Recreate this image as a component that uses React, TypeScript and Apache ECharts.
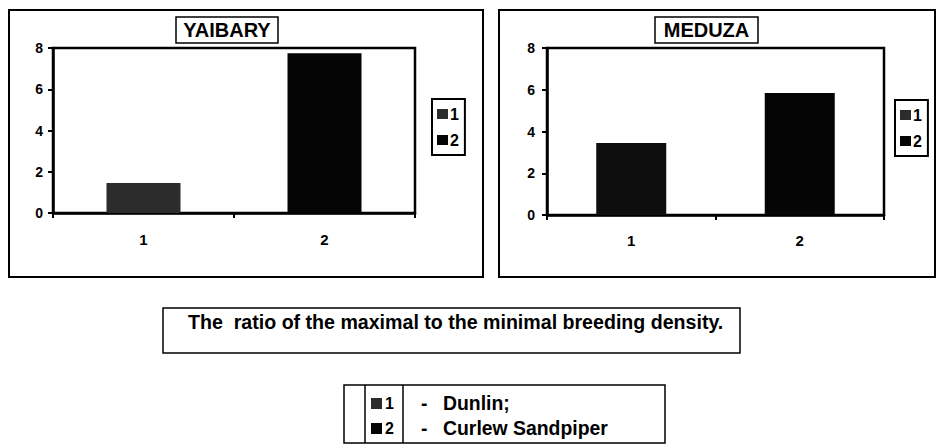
import React, { useEffect, useRef } from "react";
import * as echarts from "echarts";

const categories = ["1", "2"];
const seriesNames = ["1", "2"];
const yaibaryValues = [1.45, 7.75];
const meduzaValues = [3.45, 5.84];
const yTicks = [0, 2, 4, 6, 8];
const panelTitles = ["YAIBARY", "MEDUZA"];
const captionText = "The  ratio of the maximal to the minimal breeding density.";
const legendLabels = ["Dunlin;", "Curlew Sandpiper"];

const FONT = "'Liberation Sans', Arial, Helvetica, sans-serif";

export default function App() {
  const ref = useRef<HTMLDivElement>(null);
  useEffect(() => {
    if (!ref.current) return;
    const chart = echarts.init(ref.current, undefined, { renderer: "svg" });

    const mkX = (gi: number, margin: number) => ({
      type: "category",
      gridIndex: gi,
      data: categories,
      axisLine: { lineStyle: { color: "#000", width: 2.5 } },
      axisTick: { show: true, length: 5, lineStyle: { color: "#000", width: 2 } },
      axisLabel: { color: "#000", fontFamily: FONT, fontWeight: "bold", fontSize: 15, margin },
      splitLine: { show: false },
    });
    const mkY = (gi: number, margin: number) => ({
      type: "value",
      gridIndex: gi,
      min: yTicks[0],
      max: yTicks[yTicks.length - 1],
      interval: yTicks[1] - yTicks[0],
      axisLine: { show: true, lineStyle: { color: "#000", width: 2.5 } },
      axisTick: { show: true, length: 5, lineStyle: { color: "#000", width: 2 } },
      axisLabel: { color: "#000", fontFamily: FONT, fontWeight: "bold", fontSize: 14, margin },
      splitLine: { show: false },
    });

    const seriesColors = [
      ["#2c2c2c", "#050505"],
      ["#0e0e0e", "#050505"],
    ];
    const panels = [yaibaryValues, meduzaValues];
    const barWidths = [74, 70];
    const series: any[] = [];
    panels.forEach((vals, gi) => {
      seriesNames.forEach((name, si) => {
        series.push({
          type: "bar",
          name,
          xAxisIndex: gi,
          yAxisIndex: gi,
          barWidth: barWidths[gi],
          barGap: "-100%",
          itemStyle: { color: seriesColors[gi][si] },
          data: categories.map((_, ci) => (ci === si ? vals[ci] : "-")),
        });
      });
    });

    const mkLegend = (left: number, top: number) => ({
      left,
      top,
      orient: "vertical",
      data: seriesNames,
      icon: "rect",
      itemWidth: 11,
      itemHeight: 10,
      itemGap: 10,
      padding: [7, 6, 7, 5],
      borderColor: "#000",
      borderWidth: 2,
      backgroundColor: "#fff",
      selectedMode: false,
      textStyle: { color: "#000", fontFamily: FONT, fontWeight: "bold", fontSize: 16, padding: [0, 0, 0, -3] },
    });

    const titleBox = (x: number, w: number, text: string) => [
      {
        type: "rect",
        shape: { x, y: 17, width: w, height: 26 },
        style: { fill: "#fff", stroke: "#000", lineWidth: 1.5 },
        z: 10,
      },
      {
        type: "text",
        x: x + w / 2,
        y: 30,
        style: {
          text,
          fill: "#000",
          font: `bold 20px ${FONT}`,
          align: "center",
          verticalAlign: "middle",
        },
        z: 11,
      },
    ];

    const graphic: any[] = [
      {
        type: "rect",
        shape: { x: 9, y: 10, width: 474, height: 267 },
        style: { fill: "none", stroke: "#000", lineWidth: 2 },
        silent: true,
      },
      {
        type: "rect",
        shape: { x: 499, y: 10, width: 436, height: 267 },
        style: { fill: "none", stroke: "#000", lineWidth: 2 },
        silent: true,
      },
      ...titleBox(176, 102, panelTitles[0]),
      ...titleBox(655, 103, panelTitles[1]),
      {
        type: "rect",
        shape: { x: 163, y: 308, width: 577, height: 45 },
        style: { fill: "#fff", stroke: "#000", lineWidth: 1.5 },
      },
      {
        type: "text",
        x: 188,
        y: 322,
        style: { text: captionText, fill: "#000", font: `bold 19.6px ${FONT}`, verticalAlign: "middle" },
      },
      {
        type: "rect",
        shape: { x: 344, y: 385, width: 321, height: 58 },
        style: { fill: "#fff", stroke: "#000", lineWidth: 1.5 },
      },
      {
        type: "line",
        shape: { x1: 365, y1: 385, x2: 365, y2: 443 },
        style: { stroke: "#000", lineWidth: 1.5 },
      },
      {
        type: "line",
        shape: { x1: 403, y1: 385, x2: 403, y2: 443 },
        style: { stroke: "#000", lineWidth: 1.5 },
      },
      ...[0, 1].flatMap((i) => {
        const cy = i === 0 ? 403 : 428;
        return [
          {
            type: "rect",
            shape: { x: 371, y: cy - 5, width: 11, height: 11 },
            style: { fill: seriesColors[0][i] },
          },
          {
            type: "text",
            x: 385,
            y: cy,
            style: { text: seriesNames[i], fill: "#000", font: `bold 16px ${FONT}`, verticalAlign: "middle" },
          },
          {
            type: "text",
            x: 421,
            y: cy,
            style: { text: "-", fill: "#000", font: `bold 19.4px ${FONT}`, verticalAlign: "middle" },
          },
          {
            type: "text",
            x: 443,
            y: cy,
            style: { text: legendLabels[i], fill: "#000", font: `bold 19.4px ${FONT}`, verticalAlign: "middle" },
          },
        ];
      }),
    ];

    chart.setOption({
      animation: false,
      backgroundColor: "#fff",
      grid: [
        { left: 53, top: 48, width: 362, height: 165, show: true, borderColor: "#000", borderWidth: 2.5, backgroundColor: "#fff" },
        { left: 547, top: 48, width: 337, height: 167, show: true, borderColor: "#000", borderWidth: 2.5, backgroundColor: "#fff" },
      ],
      xAxis: [mkX(0, 19), mkX(1, 18)],
      yAxis: [mkY(0, 10), mkY(1, 12)],
      legend: [mkLegend(432, 99), mkLegend(895, 100)],
      series,
      graphic,
    });

    return () => chart.dispose();
  }, []);

  return (
    <div
      ref={ref}
      style={{ position: "fixed", left: 0, top: 0, width: 937, height: 445, background: "#fff" }}
    />
  );
}
